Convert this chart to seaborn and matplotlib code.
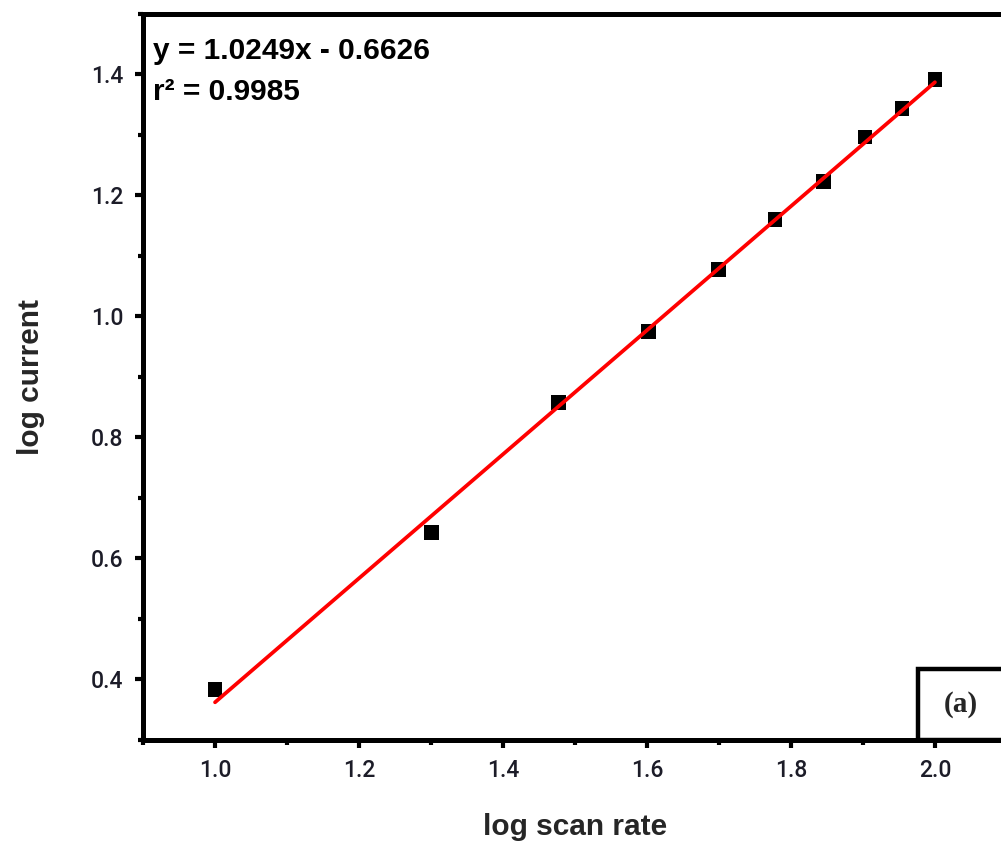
import numpy as np
import pandas as pd
import matplotlib
matplotlib.use("Agg")
import matplotlib.pyplot as plt
import seaborn as sns
from matplotlib.ticker import MultipleLocator
from matplotlib.patches import Rectangle

# Measured data: log of scan rate vs log of peak current
log_scan_rate = [1.0, 1.301, 1.477, 1.602, 1.699, 1.778, 1.845, 1.903, 1.954, 2.0]
log_current = [0.383, 0.643, 0.858, 0.975, 1.078, 1.160, 1.223, 1.297, 1.344, 1.392]

# Linear fit parameters
slope = 1.0249
intercept = -0.6626
r_squared = 0.9985
fit_x = [1.0, 2.0]

sns.set_style("ticks")
plt.rcParams["font.family"] = ["Liberation Sans", "DejaVu Sans"]

fig = plt.figure(figsize=(10.01, 8.43), dpi=100)
ax = fig.add_axes([0.1429, 0.1222, 0.863, 0.8612])

points = pd.DataFrame({"x": log_scan_rate, "y": log_current})
fit = pd.DataFrame({"x": fit_x, "y": [slope * v + intercept for v in fit_x]})

sns.scatterplot(data=points, x="x", y="y", ax=ax, marker="s", s=110,
                color="black", edgecolor="none", zorder=2)
sns.lineplot(data=fit, x="x", y="y", ax=ax, color="#ff0000", linewidth=2.7,
             zorder=3)

ax.set_xlim(0.9, 2.1)
ax.set_ylim(0.3, 1.5)
ax.xaxis.set_minor_locator(MultipleLocator(0.1))
ax.yaxis.set_minor_locator(MultipleLocator(0.1))
ax.set_xticks([1.0, 1.2, 1.4, 1.6, 1.8, 2.0])
ax.set_yticks([0.4, 0.6, 0.8, 1.0, 1.2, 1.4])

for side in ["left", "bottom", "top", "right"]:
    ax.spines[side].set_visible(True)
    ax.spines[side].set_linewidth(3.6)
    ax.spines[side].set_color("black")

ax.tick_params(which="major", direction="out", length=6, width=3,
               labelsize=16.5, labelcolor="#1c1c28", color="black", pad=8)
ax.tick_params(which="minor", direction="out", length=3.5, width=3,
               color="black")
ax.tick_params(top=False, right=False, which="both")
for lbl in ax.get_xticklabels() + ax.get_yticklabels():
    lbl.set_family(["Roboto", "Liberation Sans", "DejaVu Sans"])
    lbl.set_fontweight("medium")

ax.set_xlabel("log scan rate", fontsize=21.5, fontweight="bold", labelpad=22)
ax.set_ylabel("log current", fontsize=21.5, fontweight="bold", labelpad=33)

ax.text(0.011, 0.968, f"y = {slope}x - {abs(intercept)}", transform=ax.transAxes,
        ha="left", va="top", fontsize=21.5, fontweight="bold", color="black")
ax.text(0.011, 0.912, f"r² = {r_squared}", transform=ax.transAxes,
        ha="left", va="top", fontsize=21.5, fontweight="bold", color="black")

# Panel label box sitting on the bottom spine in the lower right corner
ax.add_patch(Rectangle((1.976, 0.3), 0.3, 0.117, facecolor="white",
                       edgecolor="black", linewidth=3.2, clip_on=False,
                       zorder=4))
ax.text(2.036, 0.358, "(a)", ha="center", va="center", fontsize=21,
        fontweight="bold", family=["Liberation Serif", "DejaVu Serif"],
        zorder=5)

fig.savefig("out.png", dpi=100)
